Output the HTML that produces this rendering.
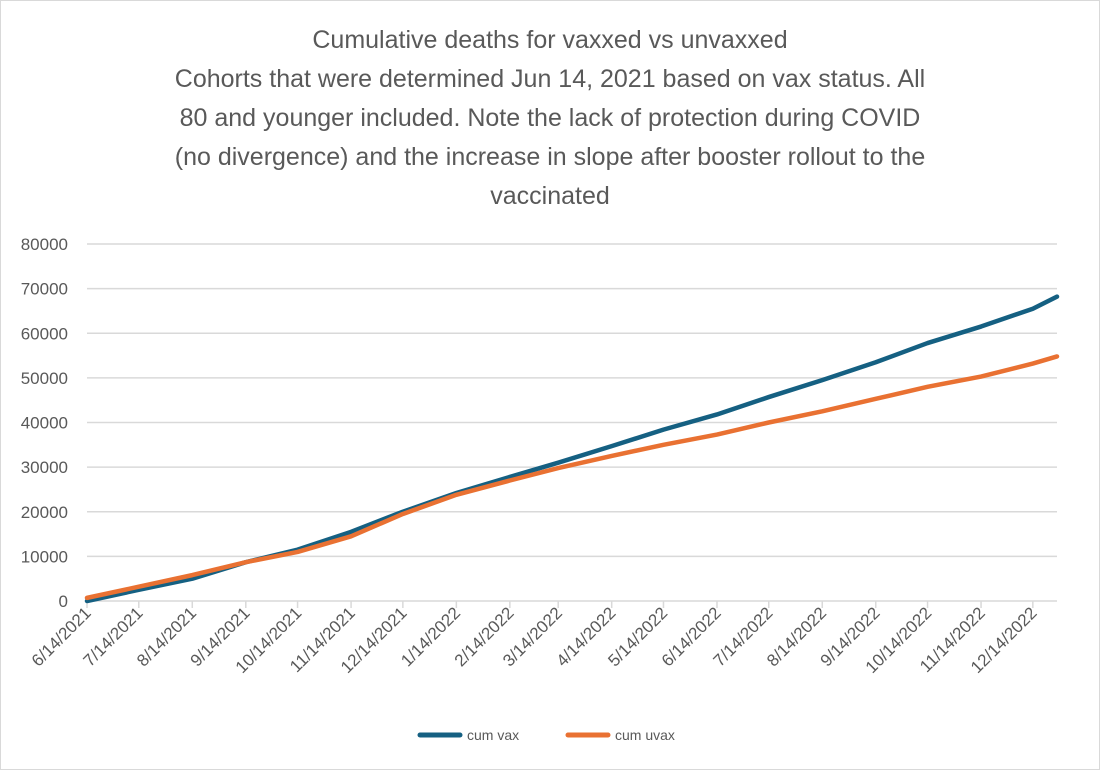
<!DOCTYPE html>
<html><head><meta charset="utf-8"><style>
body{margin:0;background:#fff;}
svg{display:block;font-family:"Liberation Sans",sans-serif;}
</style></head><body>
<svg id="chart" width="1100" height="770" viewBox="0 0 1100 770">
<rect x="0.5" y="0.5" width="1099" height="769" fill="#fff" stroke="#d9d9d9"/>
<g fill="#595959" font-size="25" text-anchor="middle">
<text x="550" y="48">Cumulative deaths for vaxxed vs unvaxxed</text>
<text x="550" y="87">Cohorts that were determined Jun 14, 2021 based on vax status. All</text>
<text x="550" y="126">80 and younger included. Note the lack of protection during COVID</text>
<text x="550" y="165">(no divergence) and the increase in slope after booster rollout to the</text>
<text x="550" y="204">vaccinated</text>
</g>
<g id="grid"></g><g id="yt"></g><g id="xt"></g><g id="series"></g>
<g font-size="14" fill="#595959">
<line x1="420" y1="735" x2="460" y2="735" stroke="#156082" stroke-width="5" stroke-linecap="round"/>
<text x="467" y="740">cum vax</text>
<line x1="568" y1="735" x2="608" y2="735" stroke="#e97132" stroke-width="5" stroke-linecap="round"/>
<text x="615" y="740">cum uvax</text>
</g>
</svg>
<script>
const dayOffsets=[0,30,61,92,122,153,183,214,245,273,304,334,365,395,426,457,487,518,548,562];
const cumVax=[0,2500,5000,8700,11500,15500,20000,24200,27800,31000,34700,38400,41800,45700,49500,53500,57800,61500,65500,68200];
const cumUvax=[700,3200,5800,8700,11000,14500,19500,23800,27000,29800,32500,35000,37300,40000,42500,45300,48000,50300,53200,54800];
const tickLabels=["6/14/2021","7/14/2021","8/14/2021","9/14/2021","10/14/2021","11/14/2021","12/14/2021","1/14/2022","2/14/2022","3/14/2022","4/14/2022","5/14/2022","6/14/2022","7/14/2022","8/14/2022","9/14/2022","10/14/2022","11/14/2022","12/14/2022"];
const tickDays=[0,30,61,92,122,153,183,214,245,273,304,334,365,395,426,457,487,518,548];
const yTicks=[0,10000,20000,30000,40000,50000,60000,70000,80000];
const NS="http://www.w3.org/2000/svg";
const X0=87,X1=1057,Y0=601,Y1=244,DMAX=562,VMAX=80000;
const xs=d=>X0+(X1-X0)*d/DMAX;
const ys=v=>Y0-(Y0-Y1)*v/VMAX;
function mk(t,a,p){const e=document.createElementNS(NS,t);for(const k in a)e.setAttribute(k,a[k]);p.appendChild(e);return e;}
const grid=document.getElementById('grid'),yt=document.getElementById('yt'),xt=document.getElementById('xt'),ser=document.getElementById('series');
yTicks.forEach(v=>{
 const l=mk('line',{x1:X0,x2:X1,y1:ys(v),y2:ys(v),stroke:'#d9d9d9','stroke-width':1.5},grid);
 
 
 const t=mk('text',{x:68,y:ys(v)+6,'text-anchor':'end','font-size':17,fill:'#595959'},yt);
 t.textContent=v;
 
 
});
tickDays.forEach((d,i)=>{
 const x=xs(d);
 const tk=mk('line',{x1:x,x2:x,y1:Y0,y2:Y0+7,stroke:'#d9d9d9','stroke-width':1.5},xt);
 
 
 const t=mk('text',{x:x+5,y:Y0+13,'text-anchor':'end','font-size':17,fill:'#595959',transform:`rotate(-45 ${x+5} ${Y0+13})`},xt);
 t.textContent=tickLabels[i];
 
 
});
function line(vals,color,name){
 const p=mk('polyline',{points:vals.map((v,i)=>xs(dayOffsets[i])+','+ys(v)).join(' '),fill:'none',stroke:color,'stroke-width':4.5,'stroke-linejoin':'round','stroke-linecap':'round'},ser);
 
 
}
line(cumVax,'#156082','series-cum-vax');
line(cumUvax,'#e97132','series-cum-uvax');
</script>
</body></html>
